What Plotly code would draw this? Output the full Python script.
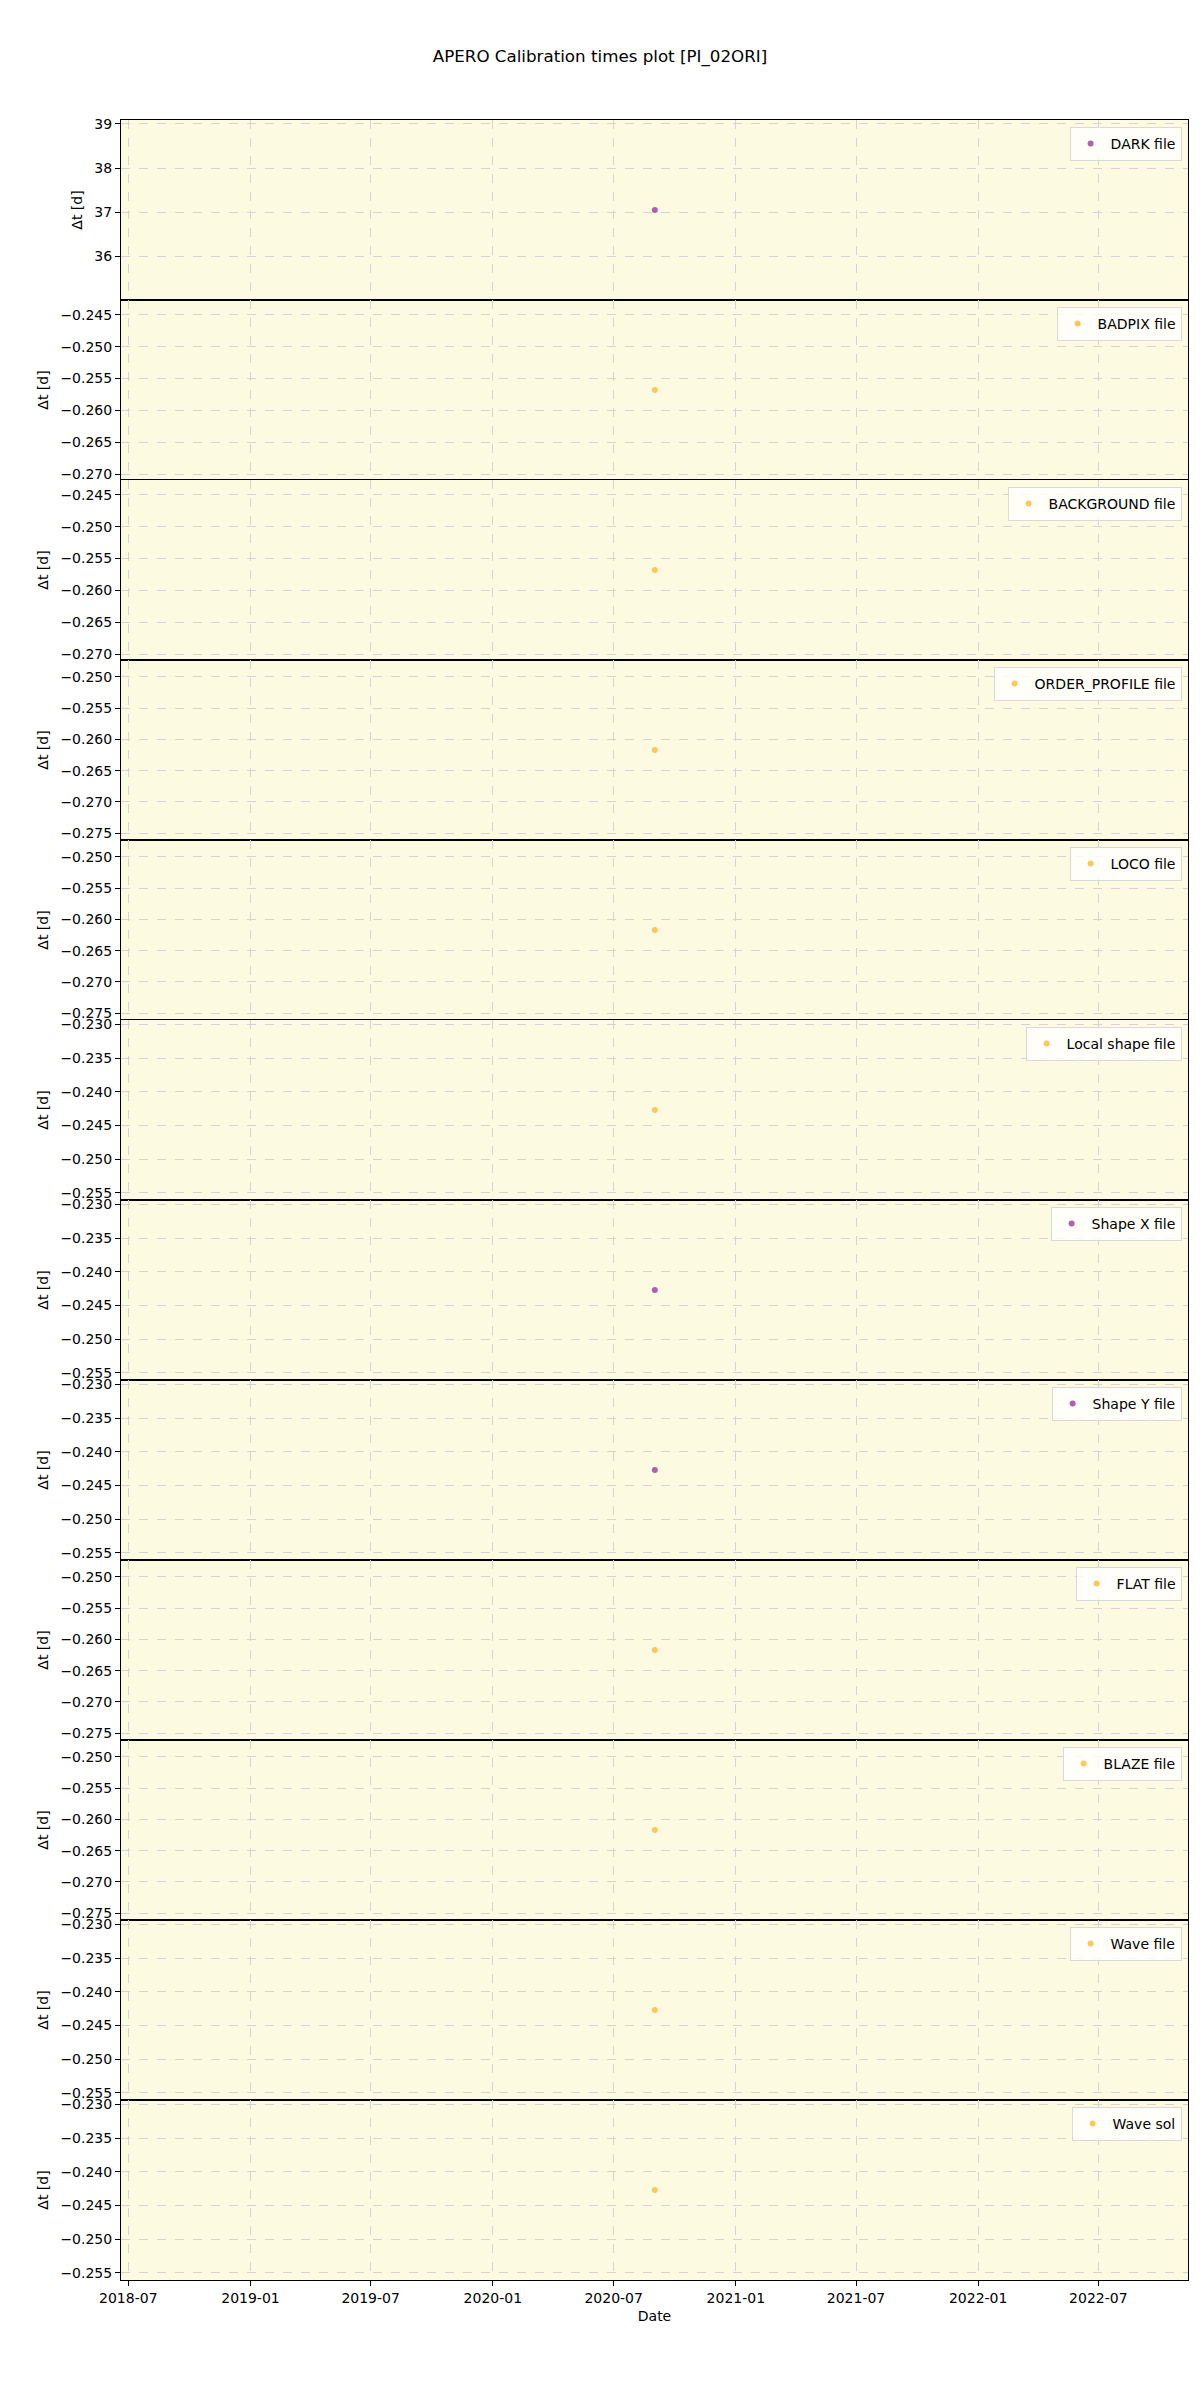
import numpy as np
import plotly.graph_objects as go
from plotly.subplots import make_subplots

# calibration file types, one panel each
labels = ["DARK file", "BADPIX file", "BACKGROUND file", "ORDER_PROFILE file",
          "LOCO file", "Local shape file", "Shape X file", "Shape Y file",
          "FLAT file", "BLAZE file", "Wave file", "Wave sol"]
# time offset of the calibration relative to the observation [days]
dt = [37.05, -0.2568, -0.2568, -0.2617, -0.2617, -0.2427,
      -0.2427, -0.2427, -0.2617, -0.2617, -0.2427, -0.2427]
obs_date = ["2020-09-01"]
# purple = taken after / other night, orange = same night
kind = ["purple", "orange", "orange", "orange", "orange", "orange",
        "purple", "purple", "orange", "orange", "orange", "orange"]

colour_map = {"purple": "#b35db3", "orange": "#ffc75a"}
date_range = ["2018-06-20", "2022-11-13"]

nrows = len(labels)
fig = make_subplots(rows=nrows, cols=1, shared_xaxes=True, vertical_spacing=0)

font = dict(family="DejaVu Sans", size=14, color="black")

for i, (lab, val, k) in enumerate(zip(labels, dt, kind)):
    row = i + 1
    leg = "legend" if i == 0 else "legend%d" % (i + 1)
    fig.add_trace(go.Scatter(x=obs_date, y=[val], mode="markers", name=lab,
                             marker=dict(color=colour_map[k], size=6),
                             showlegend=True, legend=leg),
                  row=row, col=1)
    # matplotlib style autoscale for a single point
    half = 0.055 * abs(val)
    if abs(val) > 1:
        fmt, step = "d", 1
    else:
        fmt, step = ".3f", 0.005
    fig.update_yaxes(range=[val - half, val + half], tickformat=fmt, dtick=step,
                     title=dict(text="Δt [d]", font=font, standoff=8),
                     row=row, col=1)
    top = 1 - i / nrows
    fig.update_layout({leg: dict(x=0.994, y=top - 0.0032, xanchor="right",
                                 yanchor="top", bgcolor="rgba(255,255,255,0.8)",
                                 bordercolor="#d9d9d9", borderwidth=1,
                                 font=font, itemsizing="trace")})

fig.update_yaxes(showline=True, mirror=True, linecolor="black", linewidth=1,
                 ticks="outside", ticklen=5, tickcolor="black",
                 showgrid=True, gridcolor="#d4d4d4", griddash="dash",
                 zeroline=False, tickfont=font)
fig.update_xaxes(showline=True, mirror=True, linecolor="black", linewidth=1,
                 ticks="outside", ticklen=5, tickcolor="black",
                 showgrid=True, gridcolor="#d4d4d4", griddash="dash",
                 zeroline=False, tickfont=font, range=date_range,
                 type="date", tickformat="%Y-%m", dtick="M6", tick0="2018-07-01")
fig.update_xaxes(title=dict(text="Date", font=font, standoff=6), row=nrows, col=1)

fig.update_layout(
    width=1200, height=2400,
    margin=dict(l=113, r=20, t=112, b=128),
    paper_bgcolor="white",
    plot_bgcolor="#fcfbe2",
    font=font,
    title=dict(text="APERO Calibration times plot [PI_02ORI]", x=592 / 1200,
               xanchor="center", y=1 - 48 / 2400, yanchor="middle",
               font=dict(family="DejaVu Sans", size=16.7, color="black")),
)

fig.write_html("out.html")
